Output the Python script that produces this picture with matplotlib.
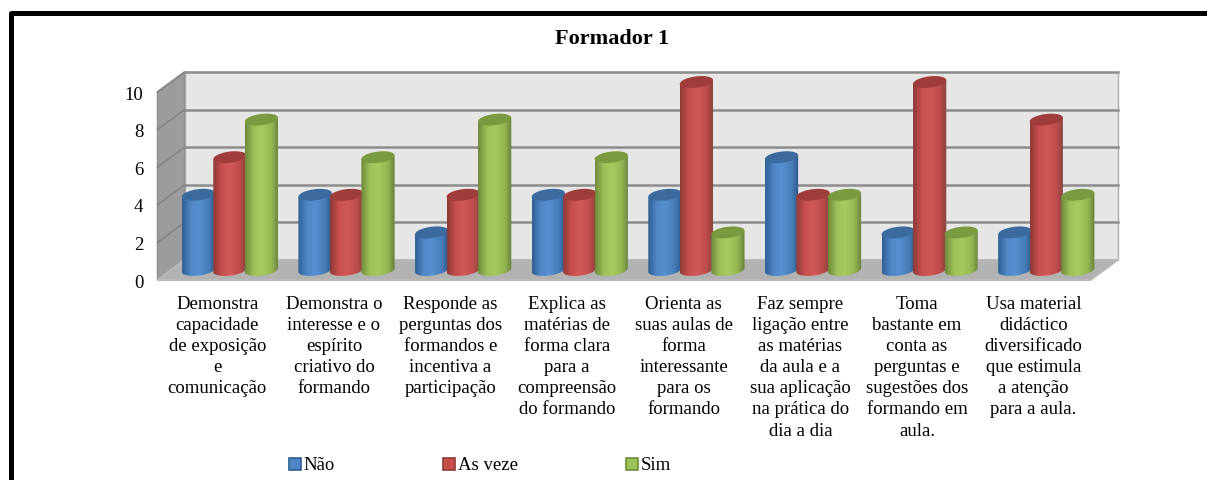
import numpy as np
import matplotlib
matplotlib.use('Agg')
import matplotlib.pyplot as plt
from matplotlib.colors import LinearSegmentedColormap
from matplotlib.patches import Polygon, Rectangle, PathPatch
from matplotlib.path import Path
from matplotlib.transforms import ScaledTranslation

title = 'Formador 1'
categories = [
    'Demonstra\ncapacidade\nde exposição\ne\ncomunicação',
    'Demonstra o\ninteresse e o\nespírito\ncriativo do\nformando',
    'Responde as\nperguntas dos\nformandos e\nincentiva a\nparticipação',
    'Explica as\nmatérias de\nforma clara\npara a\ncompreensão\ndo formando',
    'Orienta as\nsuas aulas de\nforma\ninteressante\npara os\nformando',
    'Faz sempre\nligação entre\nas matérias\nda aula e a\nsua aplicação\nna prática do\ndia a dia',
    'Toma\nbastante em\nconta as\nperguntas e\nsugestões dos\nformando em\naula.',
    'Usa material\ndidáctico\ndiversificado\nque estimula\na atenção\npara a aula.',
]
nao = [4, 4, 2, 4, 4, 6, 2, 2]
as_veze = [6, 4, 4, 4, 10, 4, 10, 8]
sim = [8, 6, 8, 6, 2, 4, 2, 4]
yticks = [0, 2, 4, 6, 8, 10]

series = [
    ('Não', nao, ['#2f5f93', '#4f86c6', '#5590d2', '#477cb8', '#2c5a8c'], '#3b6a9e'),
    ('As veze', as_veze, ['#8f3a38', '#c64f4c', '#d25856', '#bd4d4a', '#87403e'], '#9e3d3b'),
    ('Sim', sim, ['#6f8a3c', '#9dbf58', '#a8cb5e', '#93b551', '#67803a'], '#7a9a3f'),
]

W, H = 1207, 480
plt.rcParams['font.family'] = ['Liberation Serif', 'DejaVu Serif']

fig = plt.figure(figsize=(W / 100, H / 100), dpi=100)
ax = fig.add_axes([171 / W, (H - 270) / H, 933 / W, 188 / H])
ax.patch.set_visible(False)

# moldura preta (so topo e esquerda, o resto fica fora da imagem)
fig.add_artist(Rectangle((10.5 / W, -0.1), 1.2, 1.1 - 13.5 / H, transform=fig.transFigure,
                         fill=False, ec='black', lw=3.6, joinstyle='round'))

# profundidade da caixa 3D em unidades dos dados
dx = 13.5 / 116.6
dy = 0.53
x0, x1 = -0.5, 7.5

ax.add_patch(Polygon([(x0 + dx, dy), (x1 + dx, dy), (x1 + dx, 10 + dy), (x0 + dx, 10 + dy)],
                     fc='#e6e6e6', ec='#b0b0b0', lw=1, zorder=1, clip_on=False))
ax.add_patch(Polygon([(x0 - dx, -dy), (x0 + dx, dy), (x0 + dx, 10 + dy), (x0 - dx, 10 - dy)],
                     fc='#9c9c9c', ec='#8e8e8e', lw=1, zorder=1, clip_on=False))
ax.add_patch(Polygon([(x0 - dx, -dy), (x0 + dx, dy), (x1 + dx, dy), (x1 - dx, -dy)],
                     fc='#b2b2b2', ec='#b8b8b8', lw=1.5, zorder=1, clip_on=False))
for v in yticks[1:]:
    ax.plot([x0 + dx, x1 + dx], [v + dy, v + dy], color='#8c8c8c', lw=1.8, zorder=2, clip_on=False)
    ax.plot([x0 - dx, x0 + dx], [v - dy, v + dy], color='#858585', lw=1.2, zorder=2, clip_on=False)

# cilindros: gradiente horizontal recortado com a forma do cilindro
bar_w = 0.285
step = 0.27
b = 0.3
tilt = 0.1
t = np.linspace(0, 2 * np.pi, 61)
t_low = np.linspace(np.pi, 2 * np.pi, 31)
z = 3
for i in range(len(categories)):
    for j, (name, values, shades, top) in enumerate(series):
        xc = i + (j - 1) * step + 0.005
        v = values[i]
        a = bar_w / 2
        # contorno: metade de baixo da elipse da base + subida ate ao topo
        xs = xc + a * np.cos(t_low)
        ys = b * np.sin(t_low) + tilt * np.cos(t_low)
        verts = list(zip(xs, ys)) + [(xc + a, v + tilt), (xc - a, v - tilt), (xc - a, -tilt)]
        cmap = LinearSegmentedColormap.from_list(name, list(zip([0, 0.25, 0.5, 0.8, 1], shades)))
        im = ax.imshow(np.linspace(0, 1, 64).reshape(1, -1), cmap=cmap, aspect='auto',
                       extent=(xc - a, xc + a, -b - tilt, v + b + tilt), zorder=z,
                       interpolation='bilinear')
        clip = PathPatch(Path(verts), transform=ax.transData)
        # clip_box da figura, senao a base do cilindro e cortada no limite dos eixos
        im.set_clip_box(fig.bbox)
        im.set_clip_path(clip)
        ax.add_patch(Polygon(list(zip(xc + a * np.cos(t), v + b * np.sin(t) + tilt * np.cos(t))),
                             fc=top, ec='none', zorder=z + 0.5, clip_on=False))
        z += 1

ax.set_xlim(x0, x1)
ax.set_ylim(0, 10)
for s in ax.spines.values():
    s.set_visible(False)

ax.set_xticks(range(len(categories)), categories, fontsize=13.5, linespacing=1.32)
ax.set_yticks(yticks, [str(v) for v in yticks], fontsize=13.5)
ax.tick_params(axis='both', length=0)
ax.tick_params(axis='x', pad=18.5)
ax.tick_params(axis='y', pad=20)
# rotulos ficam no plano da frente da caixa
px = fig.dpi_scale_trans
for lab in ax.get_xticklabels():
    lab.set_transform(lab.get_transform() + ScaledTranslation(-0.12, 0, px))
for lab in ax.get_yticklabels():
    lab.set_transform(lab.get_transform() + ScaledTranslation(0, -0.11, px))

fig.suptitle(title, x=612 / W, y=1 - 39.5 / H, fontsize=16, fontweight='bold', va='center')

handles = [Rectangle((0, 0), 1, 1, fc=s[2][1], ec=s[2][0], lw=1.2) for s in series]
fig.legend(handles, [s[0] for s in series], ncol=3, frameon=False, fontsize=13.5,
           loc='center left', bbox_to_anchor=(283 / W, 1 - 466 / H),
           handlelength=0.65, handleheight=0.65, handletextpad=0.12, columnspacing=5.8,
           borderpad=0.3, borderaxespad=0)

fig.savefig('out.png', dpi=100)
